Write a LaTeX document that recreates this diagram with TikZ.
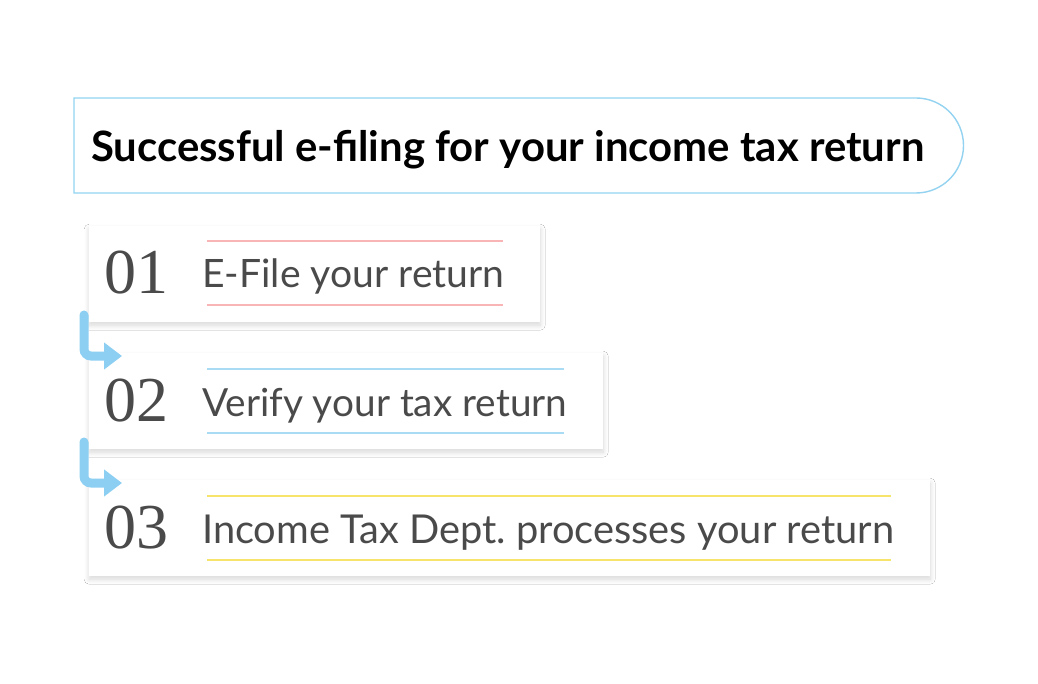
\documentclass[tikz,border=0pt]{standalone}
\usepackage{fontspec}
\newfontfamily\ssf{Lato}
\newfontfamily\nsf{Liberation Serif}
\usetikzlibrary{arrows.meta,shadows.blur}
\definecolor{tborder}{HTML}{93D3F1}
\definecolor{flowblue}{HTML}{8CCFF2}
\definecolor{txtgray}{HTML}{4A4A4A}
\definecolor{lpink}{HTML}{F9B5B5}
\definecolor{lblue}{HTML}{A9DBF5}
\definecolor{lyellow}{HTML}{F6E56A}
\begin{document}
\begin{tikzpicture}[x=1pt,y=-1pt,
  titleline/.style={draw=tborder, line width=1.4pt, fill=white},
  stepbox/.style={draw=none, fill=white, rectangle, inner sep=0pt, anchor=north west,
    minimum height=96pt,
    blur shadow={shadow xshift=0pt, shadow yshift=-3pt, shadow blur radius=5pt, shadow blur steps=12, shadow opacity=16}},
  numtext/.style={anchor=base west, inner sep=0pt, text=txtgray, font=\nsf\fontsize{64}{70}\selectfont},
  steptext/.style={anchor=base west, inner sep=0pt, text=txtgray, font=\ssf},
  deco/.style={line width=1.6pt},
  flow/.style={draw=flowblue, line width=9pt, rounded corners=7pt, line cap=round,
    -{Triangle[length=18pt,width=26pt]}}]
\useasboundingbox (0,0) rectangle (1038,684);
\fill[white] (0,0) rectangle (1038,684);
% title
\draw[titleline] (74,98) -- (916,98) arc[start angle=90,end angle=-90,radius=47.5pt] -- (74,193) -- cycle;
\node[anchor=base west, inner sep=0pt, font=\ssf\bfseries] (title) at (91,162)
  {\resizebox{833pt}{!}{Successful e-filing for your income tax return}};
% step boxes
\node[stepbox, minimum width=451pt] (s1) at (89,226) {};
\node[stepbox, minimum width=514pt] (s2) at (89,353) {};
\node[stepbox, minimum width=841pt] (s3) at (89,480) {};
% numbers
\node[numtext] (n1) at (104,294) {01};
\node[numtext] (n2) at (104,421) {02};
\node[numtext] (n3) at (104,548) {03};
% texts
\node[steptext] (t1) at (202,288) {\resizebox{302pt}{!}{E-File your return}};
\node[steptext] (t2) at (202,416) {\resizebox{365pt}{!}{Verify your tax return}};
\node[steptext] (t3) at (202,543) {\resizebox{692pt}{!}{Income Tax Dept.\ processes your return}};
% decorative lines
\draw[deco, lpink] (207,241) -- (503,241);
\draw[deco, lpink] (207,305) -- (503,305);
\draw[deco, lblue] (207,369) -- (564,369);
\draw[deco, lblue] (207,433) -- (564,433);
\draw[deco, lyellow] (207,496) -- (891,496);
\draw[deco, lyellow] (207,560) -- (891,560);
% arrows
\coordinate (a1) at (84,315);
\coordinate (b1) at (122,356);
\coordinate (a2) at (84,442);
\coordinate (b2) at (122,483);
\draw[flow] (a1) |- (b1);
\draw[flow] (a2) |- (b2);
\end{tikzpicture}
\end{document}
